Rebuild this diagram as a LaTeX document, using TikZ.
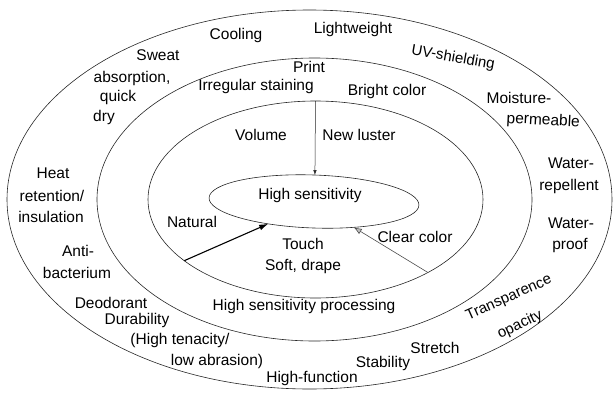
\documentclass[tikz,border=0pt]{standalone}
\usepackage{fontspec}
\setmainfont{Liberation Sans}
\usetikzlibrary{shapes.geometric,arrows.meta}
\begin{document}
\begin{tikzpicture}[x=1pt,y=-1pt,
  lbl/.style={anchor=base,inner sep=0pt,outer sep=0pt,font=\fontsize{15.5}{18}\selectfont},
  rlbl/.style={anchor=center,inner sep=0pt,outer sep=0pt,font=\fontsize{15}{18}\selectfont},
  ring/.style={draw=black!85,ellipse,inner sep=0pt,outer sep=0pt,line width=0.6pt},
  thinarrow/.style={draw=black!85,line width=0.5pt,-{Latex[length=5pt,width=3.5pt]}},
  boldarrow/.style={draw=black,line width=1.1pt,-{Latex[length=9pt,width=6pt]}},
  greyarrow/.style={draw=black!70,line width=0.6pt,-{Latex[length=8pt,width=6pt,fill=black!25]}}]
\useasboundingbox (0,0) rectangle (614,394);
% rings
\node[ring,minimum width=605,minimum height=379] (e1) at (309.5,199.5) {};
\node[ring,minimum width=435,minimum height=283] (e2) at (314.5,199.5) {};
\node[ring,minimum width=335,minimum height=197] (e3) at (315.5,199.5) {};
\node[ring,minimum width=210,minimum height=53,rotate=-2] (e4) at (314,201.5) {};
\node[lbl] (hs) at (310,199) {High sensitivity};
% arrows
\draw[thinarrow] (e3.north) -- (e4.north);
\draw[boldarrow] (e3.205.2) -- (e4.208);
\draw[greyarrow] (e3.327.8) -- (e4.329);
% outer ring labels
\node[lbl] (cool) at (236,39) {Cooling};
\node[lbl] (light) at (353,33) {Lightweight};
\node[rlbl,rotate=-10] (uv) at (453,58) {UV-shielding};
\node[lbl] (sweat) at (158,60) {Sweat};
\node[lbl] (abs) at (132,82) {absorption,};
\node[lbl] (quick) at (118,101) {quick};
\node[lbl] (dry) at (104,121) {dry};
\node[lbl] (moist) at (519,103) {Moisture-};
\node[lbl,rotate=-3] (perm) at (543,125) {permeable};
\node[lbl] (wat1) at (571,168) {Water-};
\node[lbl] (rep) at (569,190) {repellent};
\node[lbl] (wat2) at (571,228) {Water-};
\node[lbl] (proof) at (570,249) {proof};
\node[lbl] (heat) at (53,178) {Heat};
\node[lbl] (ret) at (52,201) {retention/};
\node[lbl] (ins) at (51,222) {insulation};
\node[lbl] (anti) at (78,256) {Anti-};
\node[lbl] (bact) at (77,278) {bacterium};
\node[lbl] (deo) at (111,308) {Deodorant};
\node[lbl] (dur) at (137,324) {Durability};
\node[lbl] (ten) at (180,344) {(High tenacity/};
\node[lbl] (abr) at (217,365) {low abrasion)};
\node[lbl] (hf) at (312,382) {High-function};
\node[lbl] (stab) at (383,367) {Stability};
\node[lbl] (str) at (435,353) {Stretch};
\node[rlbl,rotate=24] (trans) at (509,298) {Transparence};
\node[rlbl,rotate=25] (opac) at (520,325) {opacity};
% middle ring labels
\node[lbl] (print) at (309,72) {Print};
\node[lbl] (irr) at (256,90) {Irregular staining};
\node[lbl] (bright) at (387,95) {Bright color};
\node[lbl] (hsp) at (304,310) {High sensitivity processing};
% inner ring labels
\node[lbl] (vol) at (261,140) {Volume};
\node[lbl] (lus) at (359,140) {New luster};
\node[lbl] (nat) at (192,227) {Natural};
\node[lbl] (clear) at (415,242) {Clear color};
\node[lbl] (touch) at (303,249) {Touch};
\node[lbl] (soft) at (303,270) {Soft, drape};
\end{tikzpicture}
\end{document}
